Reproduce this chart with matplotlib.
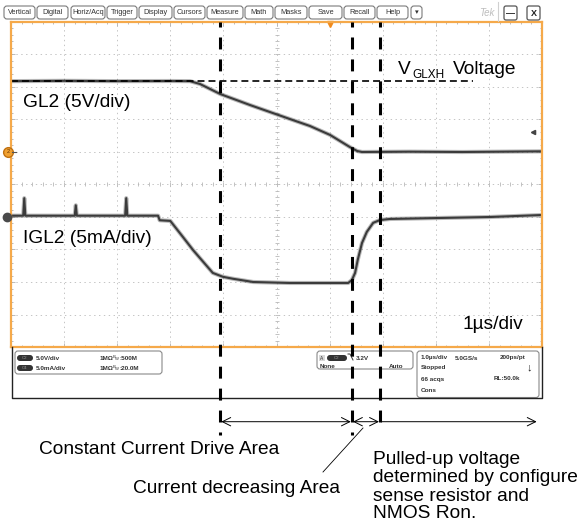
import matplotlib
matplotlib.use('Agg')
import matplotlib.pyplot as plt
import matplotlib.transforms as mtransforms
from matplotlib.patches import FancyBboxPatch, Rectangle
import numpy as np

plt.rcParams['font.family'] = ['Liberation Sans', 'DejaVu Sans']
plt.rcParams['lines.scale_dashes'] = False

# scope settings
volts_per_div = 5.0
ma_per_div = 5.0
gl2_offset_div = 6.0    # ch2 ground marker, divisions above bottom
igl2_offset_div = 4.0   # ch4 ground marker
trigger_t = 6.0         # us

# GL2 gate voltage [V] vs time [us]
gl2_t = [0.0, 1.0, 2.0, 3.0, 3.37, 3.56, 3.94, 4.50, 5.25, 5.63, 6.01, 6.38, 6.52, 6.61, 7.5, 8.5, 9.98]
gl2_v = [10.9, 10.95, 10.9, 10.92, 10.9, 10.46, 8.92, 7.23, 5.08, 4.0, 2.62, 0.77, 0.15, 0.0, 0.05, 0.0, 0.1]

# IGL2 gate current [mA] vs time [us]
igl2_t = [0.0, 0.23, 0.25, 0.27, 1.20, 1.22, 1.24, 2.15, 2.17, 2.19, 2.77, 2.80, 3.0,
          3.24, 3.43, 3.62, 3.80, 3.99, 4.18, 4.56, 5.25, 6.35, 6.42, 6.48, 6.53,
          6.61, 6.70, 6.82, 6.95, 7.14, 9.02, 9.98]
igl2_ma = [0.2, 0.2, 2.9, 0.2, 0.2, 1.8, 0.2, 0.2, 2.9, 0.2, 0.2, -0.5, -0.6,
           -3.1, -5.1, -6.9, -8.6, -9.2, -9.5, -10.0, -10.15, -10.15, -9.7, -8.6, -6.6,
           -4.0, -2.3, -0.9, -0.46, -0.3, 0.0, 0.3]

# V_GLXH reference level and region boundaries
vglxh = 10.92
vglxh_end_t = 8.70
mark_t = [3.94, 6.42, 6.95]
arrow_end_t = 9.90

# toolbar
button_labels = ["Vertical", "Digital", "Horiz/Acq", "Trigger", "Display", "Cursors",
                 "Measure", "Math", "Masks", "Save", "Recall", "Help", "\u25BE"]
button_edges = [(4, 35), (37, 68), (71, 105), (107, 137), (139, 172), (174, 205),
                (207, 243), (245, 273), (275, 307), (309, 342), (344, 375), (377, 408), (411, 422)]

fig = plt.figure(figsize=(5.8, 5.22), dpi=100, facecolor='white')

# scope screen, pixel box x 11..542, y 22..347
ax = fig.add_axes([11/580, (522-347)/522, 531/580, 325/522], zorder=1)
ax.set_xlim(0, 10)
ax.set_ylim(0, 10)
orange = '#F5A94A'
for s in ax.spines.values():
    s.set_color(orange)
    s.set_linewidth(1.6)
ax.set_xticks(np.arange(0, 11, 1))
ax.set_yticks(np.arange(0, 11, 1))
ax.set_xticks(np.arange(0, 10.01, 0.2), minor=True)
ax.set_yticks(np.arange(0, 10.01, 0.2), minor=True)
ax.tick_params(which='both', direction='in', top=True, right=True,
               labelbottom=False, labelleft=False, color='#b0b0b0', width=0.6)
ax.tick_params(which='major', length=3)
ax.tick_params(which='minor', length=1.6)
ax.grid(which='major', color='#c4c4c4', linestyle=(0, (1, 2.5)), linewidth=0.7)
minor = np.arange(0.2, 10, 0.2)
ax.plot(np.full(minor.size, 5.0), minor, ls='none', marker='_', ms=3, mew=0.6, color='#b8b8b8')
ax.plot(minor, np.full(minor.size, 5.0), ls='none', marker='|', ms=3, mew=0.6, color='#b8b8b8')

trace = '#3b3b3b'
gl2_div = [gl2_offset_div + v / volts_per_div for v in gl2_v]
igl2_div = [igl2_offset_div + i / ma_per_div for i in igl2_ma]
for tt, yy in ((gl2_t, gl2_div), (igl2_t, igl2_div)):
    ax.plot(tt, yy, color=trace, lw=3.0, alpha=0.35, solid_joinstyle='round')
    ax.plot(tt, yy, color=trace, lw=1.5, solid_joinstyle='round')

ax.plot([0, vglxh_end_t], [gl2_offset_div + vglxh / volts_per_div] * 2, color='black',
        lw=1.2, linestyle=(0, (5, 2.9)))
ax.plot(trigger_t, 9.93, marker='v', ms=5, color='#F08A1C', clip_on=False)

# overlay in pixel coordinates
ov = fig.add_axes([0, 0, 1, 1], zorder=2)
ov.set_xlim(0, 580)
ov.set_ylim(522, 0)
ov.axis('off')
ov.patch.set_alpha(0)
bx = mtransforms.blended_transform_factory(ax.transData, ov.transData)
by = mtransforms.blended_transform_factory(ov.transData, ax.transData)

# channel markers
ov.plot(8, gl2_offset_div, 'o', ms=7, color='#F0A030', mec='#C07010', transform=by, clip_on=False)
ov.text(8, gl2_offset_div, '2', fontsize=4, ha='center', va='center', color='#603000', transform=by)
ov.plot([12, 16], [gl2_offset_div] * 2, color='#555555', lw=0.8, transform=by)
ov.plot(7, igl2_offset_div, 'o', ms=6, color='#4a4a4a', transform=by, clip_on=False)
ov.plot(533, 132, marker='<', ms=3, color='#444444')

# toolbar
for lab, (x0, x1) in zip(button_labels, button_edges):
    ov.add_patch(FancyBboxPatch((x0, 6), x1 - x0, 13, boxstyle='round,pad=0,rounding_size=3',
                                fc='white', ec='#7a7a7a', lw=0.8))
    ov.text((x0 + x1) / 2, 12.8, lab, fontsize=5.3, ha='center', va='center', color='#333333')
ov.text(487, 13, 'Tek', fontsize=7, ha='center', va='center', color='#bdbdbd', style='italic')
ov.plot([498, 498], [2, 21], color='#d0d0d0', lw=0.8)
for x0, lab in [(504, '\u2014'), (527, 'X')]:
    ov.add_patch(FancyBboxPatch((x0, 6), 13, 14, boxstyle='round,pad=0,rounding_size=2',
                                fc='white', ec='#555555', lw=0.9))
    ov.text(x0 + 6.5, 13.3, lab, fontsize=6.5, ha='center', va='center', color='#222222', weight='bold')

# info panel
ov.plot([12, 12, 542, 542], [347, 398, 398, 347], color='#222222', lw=1.0)
pan = dict(fontsize=4.6, weight='bold', color='#333333', va='center')
ov.add_patch(FancyBboxPatch((15, 351), 147, 23, boxstyle='round,pad=0,rounding_size=3',
                            fc='white', ec='#8a8a8a', lw=0.8))
for y, ch, scale, bw in [(358, 'C2', '5.0V/div', '500M'), (368, 'C4', '5.0mA/div', '20.0M')]:
    ov.add_patch(FancyBboxPatch((17, y - 3), 16, 6, boxstyle='round,pad=0,rounding_size=3',
                                fc='#333333', ec='none'))
    ov.text(25, y, ch, fontsize=3.2, ha='center', va='center', color='#9a9a9a')
    ov.text(36, y, scale, **pan)
    ov.text(100, y, '1M\u03A9', **pan)
    ov.text(113, y - 1.5, 'B', fontsize=3, color='#333333', va='center')
    ov.text(115, y + 1.5, 'W', fontsize=3, color='#333333', va='center')
    ov.text(119, y, ':' + bw, **pan)

ov.add_patch(FancyBboxPatch((317, 351), 96, 18, boxstyle='round,pad=0,rounding_size=3',
                            fc='white', ec='#8a8a8a', lw=0.8))
ov.add_patch(Rectangle((318.5, 355), 6, 6, fc='#d8d8d8', ec='none'))
ov.text(321.5, 358, 'A', fontsize=3.5, ha='center', va='center', color='#333333')
ov.add_patch(FancyBboxPatch((327, 355), 20, 6, boxstyle='round,pad=0,rounding_size=3',
                            fc='#333333', ec='none'))
ov.text(337, 358, 'C2', fontsize=3.2, ha='center', va='center', color='#9a9a9a')
ov.plot([348, 350, 353], [354, 354, 360], color='#333333', lw=0.7)
ov.text(356, 358, '3.2V', **pan)
ov.text(320, 366, 'None', **pan)
ov.text(389, 366, 'Auto', **pan)

ov.add_patch(FancyBboxPatch((417, 351), 122, 46.5, boxstyle='round,pad=0,rounding_size=3',
                            fc='white', ec='#8a8a8a', lw=0.8))
ov.text(421, 358, '1.0\u00B5s/div', **pan)
ov.text(455, 358, '5.0GS/s', **pan)
ov.text(500, 358, '200ps/pt', **pan)
ov.text(421, 368, 'Stopped', **pan)
ov.text(529, 367, '\u2193', fontsize=8, weight='bold', ha='center', va='center', color='#222222')
ov.text(421, 379, '66 acqs', **pan)
ov.text(494, 379, 'RL:50.0k', **pan)
ov.text(421, 390, 'Cons', **pan)

# region boundaries
ends = [435, 435, 424]
for t, yend in zip(mark_t, ends):
    ov.plot([t, t], [22, yend], transform=bx, color='black', lw=2.2,
            linestyle=(5.0, (8.6, 7.2)), dash_capstyle='butt', zorder=10)

ay = 421.7
arr = dict(color='black', lw=0.7, shrinkA=0, shrinkB=0, mutation_scale=10)
ov.annotate('', xy=(mark_t[1] - 0.02, ay), xytext=(mark_t[0] + 0.02, ay), xycoords=bx, textcoords=bx,
            arrowprops=dict(arrowstyle='<->,head_length=0.6,head_width=0.3', **arr))
ov.annotate('', xy=(mark_t[2] - 0.02, ay), xytext=(mark_t[1] + 0.02, ay), xycoords=bx, textcoords=bx,
            arrowprops=dict(arrowstyle='<->,head_length=0.6,head_width=0.3', **arr))
ov.annotate('', xy=(arrow_end_t, ay), xytext=(mark_t[2] + 0.02, ay), xycoords=bx, textcoords=bx,
            arrowprops=dict(arrowstyle='->,head_length=0.6,head_width=0.3', **arr))
ov.plot([363, 323], [428, 472], color='black', lw=0.6)

# labels
big = dict(fontsize=13.8, color='black', va='baseline', ha='left')
ov.text(23, 107, 'GL2 (5V/div)', **big)
ov.text(23, 243, 'IGL2 (5mA/div)', **big)
ov.text(463, 329, '1\u00B5s/div', **big)
ov.text(398, 74, 'V', **big)
ov.text(412, 78, 'GLXH', fontsize=8.5, va='baseline', ha='left')
ov.text(453, 74, 'Voltage', **big)
ov.text(39, 454, 'Constant Current Drive Area', **big)
ov.text(133, 493, 'Current decreasing Area', **big)
for y, line in zip([464, 482.5, 501, 518], ['Pulled-up voltage', 'determined by configure',
                                            'sense resistor and', 'NMOS Ron.']):
    ov.text(373, y, line, **big)

fig.savefig('out.png', dpi=100)
